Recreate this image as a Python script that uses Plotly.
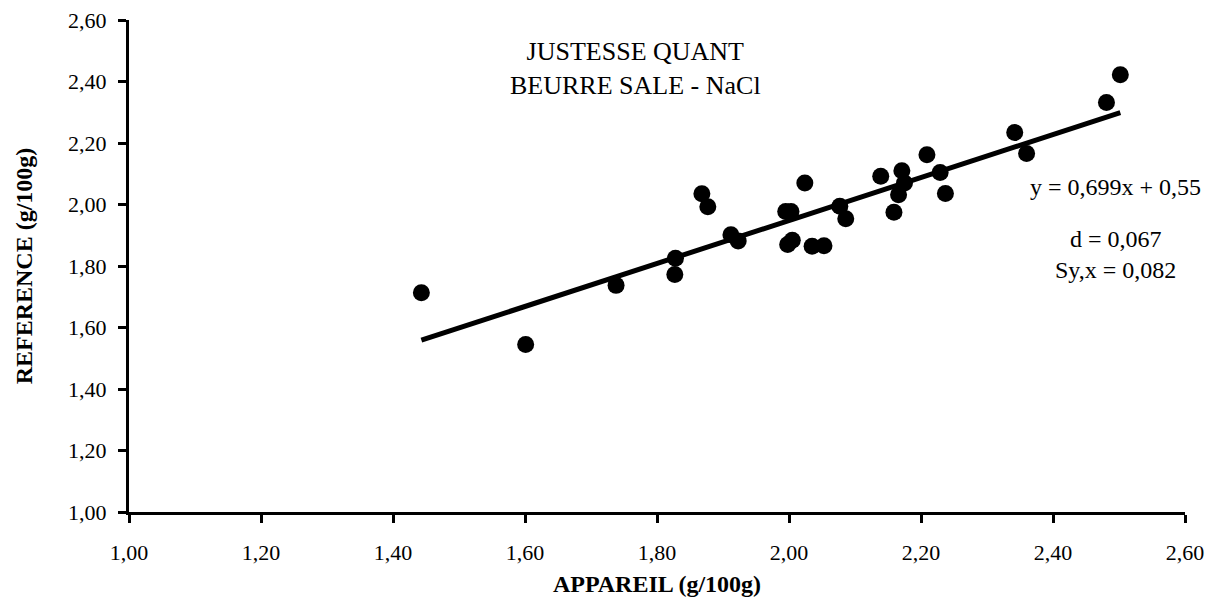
import plotly.graph_objects as go
import numpy as np

# Data
appareil = [1.443, 1.601, 1.738, 1.827, 1.828, 1.868, 1.877, 1.912, 1.923, 1.995,
            2.003, 1.998, 2.005, 2.035, 2.053, 2.024, 2.077, 2.086, 2.139, 2.159,
            2.166, 2.171, 2.175, 2.209, 2.229, 2.237, 2.342, 2.360, 2.481, 2.502]
reference = [1.713, 1.545, 1.737, 1.772, 1.825, 2.035, 1.993, 1.902, 1.881, 1.977,
             1.977, 1.870, 1.884, 1.864, 1.866, 2.070, 1.994, 1.954, 2.092, 1.975,
             2.032, 2.110, 2.070, 2.162, 2.104, 2.036, 2.234, 2.166, 2.332, 2.422]

slope = 0.699
intercept = 0.55
tick_vals = [1.0, 1.2, 1.4, 1.6, 1.8, 2.0, 2.2, 2.4, 2.6]

title_text = "JUSTESSE QUANT<br>BEURRE SALE - NaCl"
eq_text = "y = 0,699x + 0,55"
stats_text = "d = 0,067<br>Sy,x = 0,082"

FONT = "Liberation Serif, Times New Roman, serif"

x_line = np.array([min(appareil), max(appareil)])
y_line = slope * x_line + intercept

fig = go.Figure()
fig.add_trace(go.Scatter(x=appareil, y=reference, mode="markers",
                         marker=dict(color="black", size=17, line=dict(width=0)),
                         showlegend=False))
fig.add_trace(go.Scatter(x=x_line, y=y_line, mode="lines",
                         line=dict(color="black", width=5), showlegend=False))

axis_common = dict(range=[1.0, 2.6], tickvals=tick_vals, tickformat=".2f",
                   showgrid=False, zeroline=False, showline=True,
                   linecolor="black", linewidth=3, ticks="outside",
                   ticklen=8, tickwidth=3, tickcolor="black", automargin=False,
                   ticklabeloverflow="allow",
                   tickfont=dict(family=FONT, size=22, color="black"))

fig.update_xaxes(**axis_common, ticklabelstandoff=11,
                 title=dict(text="<b>APPAREIL (g/100g)</b>",
                            font=dict(family=FONT, size=24, color="black"),
                            standoff=11))
fig.update_yaxes(**axis_common, ticklabelstandoff=7,
                 title=dict(text="<b>REFERENCE (g/100g)</b>",
                            font=dict(family=FONT, size=24, color="black"),
                            standoff=29))

fig.add_annotation(x=1.767, y=2.442, xref="x", yref="y", text=title_text,
                   showarrow=False, align="center",
                   font=dict(family=FONT, size=26, color="black"))
fig.add_annotation(x=2.494, y=2.057, xref="x", yref="y", text=eq_text,
                   showarrow=False, xanchor="center",
                   font=dict(family=FONT, size=24, color="black"))
fig.add_annotation(x=2.494, y=1.836, xref="x", yref="y", text=stats_text,
                   showarrow=False, align="center",
                   font=dict(family=FONT, size=24, color="black"))

# page body has an 8px margin; margins compensate so the plot area lands where the reference has it
fig.update_layout(width=1215, height=606, separators=",.",
                  margin=dict(l=121, r=38, t=12, b=102),
                  plot_bgcolor="white", paper_bgcolor="white",
                  font=dict(family=FONT, color="black"))

fig.write_html("out.html")
